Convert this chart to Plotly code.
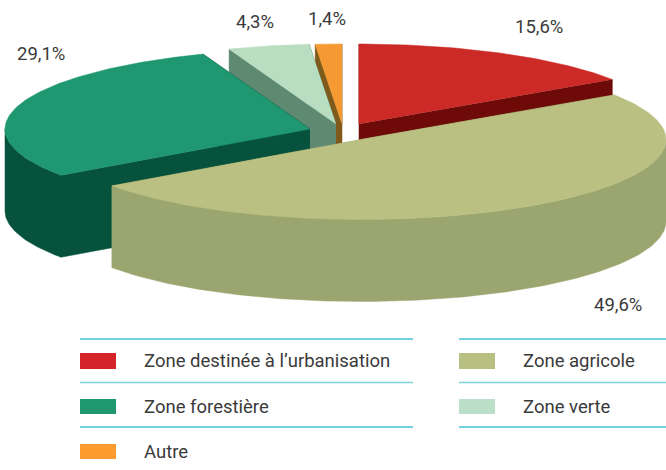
import numpy as np
import plotly.graph_objects as go

categories = ["Zone destinée à l’urbanisation", "Zone agricole", "Zone forestière", "Zone verte", "Autre"]
values = [15.6, 49.6, 29.1, 4.3, 1.4]
labels = ["15,6%", "49,6%", "29,1%", "4,3%", "1,4%"]
top_colors = ["#CC2A27", "#B9C081", "#1F9871", "#B9DDC1", "#F59A32"]
side_colors = ["#6E0A08", "#9AA56F", "#07523C", "#5F8A72", "#7F5A1A"]
legend_colors = ["#D4242A", "#B7C082", "#1F9870", "#BBDFC8", "#FC9C2E"]

# exploded centre of every slice, in canvas pixels
centres = [(359, 124), (361, 139.5), (310, 129), (336, 124), (342, 124)]
label_pos = [(539, 26.5), (618, 305), (41, 54), (255, 21.5), (327, 18.5)]
RX, RY, DEPTH = 305, 80, 82
draw_order = [4, 3, 0, 2, 1]

edges = np.concatenate([[0], np.cumsum(values)]) / sum(values) * 2 * np.pi


def rim(i, a0, a1):
    t = np.linspace(a0, a1, max(2, int(abs(a1 - a0) * 60)))
    cx, cy = centres[i]
    return cx + RX * np.sin(t), cy - RY * np.cos(t)


fig = go.Figure()


def poly(x, y, color):
    fig.add_trace(go.Scatter(x=list(x), y=list(y), mode="lines", fill="toself",
                             fillcolor=color, line=dict(color=color, width=0.5),
                             hoverinfo="skip", showlegend=False))


for i in draw_order:
    a0, a1 = edges[i], edges[i + 1]
    cx, cy = centres[i]
    side = side_colors[i]
    # both cut faces
    for a in (a0, a1):
        ex, ey = rim(i, a, a)
        ex, ey = ex[0], ey[0]
        poly([cx, ex, ex, cx], [cy, ey, ey + DEPTH, cy + DEPTH], side)
    # outer wall on the front half
    lo, hi = max(a0, np.pi / 2), min(a1, 3 * np.pi / 2)
    if hi > lo:
        x, y = rim(i, lo, hi)
        poly(np.r_[x, x[::-1]], np.r_[y, y[::-1] + DEPTH], side)
    # top face
    x, y = rim(i, a0, a1)
    poly(np.r_[cx, x], np.r_[cy, y], top_colors[i])

# percent labels
annotations = []
for (px, py), t in zip(label_pos, labels):
    annotations.append(dict(x=px, y=py, text=t, showarrow=False, xanchor="center", yanchor="middle",
                            font=dict(family="Roboto", size=18.5, color="#3a3a3a")))

# legend table
COLS = [(80, 413, 141.5, 116), (459, 666, 520.5, 495)]
ROW_LINES = [339, 382.5, 427]
legend_slots = [(0, 361, 353, 369), (1, 361, 353, 369), (0, 407, 399, 414), (1, 407, 399, 414), (0, 452, 444, 459)]
shapes = []
for col in COLS:
    for yl, c in zip(ROW_LINES, ["#45C0DA", "#80D2DC", "#45C0DA"]):
        shapes.append(dict(type="line", x0=col[0], x1=col[1], y0=yl, y1=yl,
                           line=dict(color=c, width=1.3), layer="above"))
for name, color, (c, ty, r0, r1) in zip(categories, legend_colors, legend_slots):
    x0, _, tx, x1 = COLS[c]
    shapes.append(dict(type="rect", x0=x0, x1=x1, y0=r0, y1=r1, fillcolor=color, line=dict(width=0)))
    annotations.append(dict(x=tx, y=ty, text=name, showarrow=False, xanchor="left", yanchor="middle",
                            font=dict(family="Roboto", size=18.5, color="#3a3a3a")))

fig.update_layout(width=666, height=470, margin=dict(l=0, r=0, t=0, b=0),
                  paper_bgcolor="white", plot_bgcolor="white",
                  xaxis=dict(range=[0, 666], visible=False, fixedrange=True),
                  yaxis=dict(range=[470, 0], visible=False, fixedrange=True),
                  shapes=shapes, annotations=annotations, showlegend=False)
fig.write_html("out.html", config=dict(displayModeBar=False),
               post_script="document.body.style.margin='0';document.body.style.overflow='hidden';")
